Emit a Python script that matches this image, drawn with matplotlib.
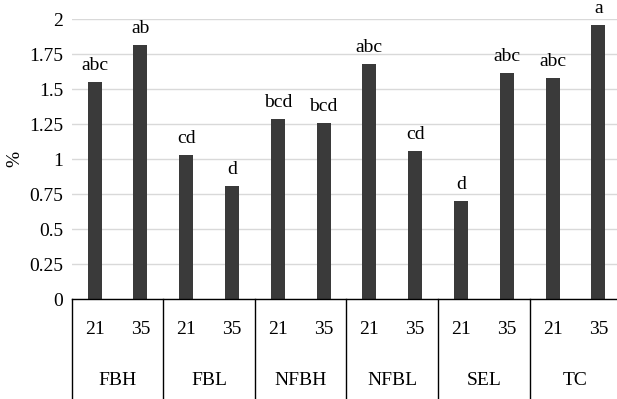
import numpy as np
import matplotlib.pyplot as plt
from matplotlib.lines import Line2D

groups = ['FBH', 'FBL', 'NFBH', 'NFBL', 'SEL', 'TC']
days = ['21', '35']
values = [1.55, 1.82, 1.03, 0.81, 1.29, 1.26, 1.68, 1.06, 0.70, 1.62, 1.58, 1.96]
letters = ['abc', 'ab', 'cd', 'd', 'bcd', 'bcd', 'abc', 'cd', 'd', 'abc', 'abc', 'a']

plt.rcParams['font.family'] = ['Liberation Serif', 'DejaVu Serif']
plt.rcParams['font.size'] = 14

W, H = 617, 399
fig = plt.figure(figsize=(W / 100, H / 100), dpi=100)
# plot area in pixels: left 71.7, right 621.3 (runs past the edge), top 19.3, zero line 299.3
ax = fig.add_axes([71.7 / W, (H - 299.3) / H, (621.3 - 71.7) / W, 280 / H])

x = np.arange(len(values))
ax.bar(x, values, width=0.31, color='#3a3a3a', zorder=3)

for xi, v, lab in zip(x, values, letters):
    ax.annotate(lab, (xi, v), xytext=(0, 8.6), textcoords='offset points',
                ha='center', va='baseline', fontsize=14)

ax.set_xlim(-0.5, len(values) - 0.5)
ax.set_ylim(0, 2)
ax.set_yticks(np.arange(0, 2.01, 0.25))
ax.set_yticklabels(['0', '0.25', '0.5', '0.75', '1', '1.25', '1.5', '1.75', '2'])
ax.yaxis.grid(True, color='#d9d9d9', linewidth=1.0, zorder=0)
ax.tick_params(axis='y', length=0, pad=6, labelsize=14)
ax.set_xticks([])
for s in ['top', 'right', 'left']:
    ax.spines[s].set_visible(False)
ax.spines['bottom'].set_color('black')
ax.spines['bottom'].set_linewidth(1.0)
ax.spines['bottom'].set_zorder(4)

ax.set_ylabel('%', fontsize=14, labelpad=4)

# two-level category axis drawn below the plot
tr = ax.get_xaxis_transform()
for xi in x:
    ax.text(xi, -0.125, days[xi % 2], transform=tr, ha='center', va='baseline', fontsize=14)
for gi, g in enumerate(groups):
    ax.text(2 * gi + 0.5, -0.306, g, transform=tr, ha='center', va='baseline', fontsize=14)
for b in np.arange(-0.5, len(values), 2):
    ax.add_line(Line2D([b, b], [0, -0.36], transform=tr, color='black',
                       linewidth=1.0, clip_on=False))

fig.savefig('out.png', dpi=100)
